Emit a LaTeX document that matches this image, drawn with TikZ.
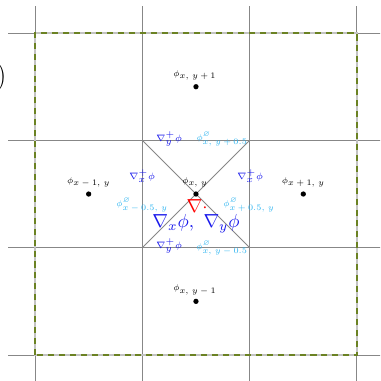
\documentclass[tikz,border=0pt]{standalone}
\usepackage{amssymb}
\definecolor{gridgray}{RGB}{135,135,135}
\definecolor{boxgray}{RGB}{195,195,195}
\definecolor{boxolive}{RGB}{107,130,35}
\definecolor{gradblue}{RGB}{25,25,235}
\definecolor{facecyan}{RGB}{45,180,240}
\begin{document}
\begin{tikzpicture}[x=2cm,y=2cm,
  gridline/.style={gridgray,line width=0.5pt},
  site/.style={circle,fill=black,inner sep=0pt,minimum size=2.8pt},
  val/.style={inner sep=0pt,font=\fontsize{6}{7}\selectfont,scale=0.74,transform shape},
  grad/.style={inner sep=0pt,text=gradblue,font=\fontsize{6}{7}\selectfont,scale=0.82,transform shape},
  face/.style={val,text=facecyan}]
\clip (-0.326,-0.242) rectangle (3.215,3.308);
\foreach \i in {0,...,3} {
  \draw[gridline] (\i,-0.25) -- (\i,3.25);
  \draw[gridline] (-0.25,\i) -- (3.25,\i);
}
\draw[boxgray,line width=1.5pt] (0,0) rectangle (3,3);
\draw[boxolive,line width=1.5pt,dash pattern=on 3.2pt off 2.6pt] (0,0) rectangle (3,3);
\coordinate (sw) at (1,1);
\coordinate (se) at (2,1);
\coordinate (nw) at (1,2);
\coordinate (ne) at (2,2);
\draw[gridline] (sw) -- (ne);
\draw[gridline] (nw) -- (se);
\node[inner sep=0pt,anchor=east,font=\fontsize{15}{18}\selectfont] (paren) at (-0.262,2.59) {)};
\node[site] (c) at (1.5,1.5) {};
\node[site] (up) at (1.5,2.5) {};
\node[site] (dn) at (1.5,0.5) {};
\node[site] (lf) at (0.5,1.5) {};
\node[site] (rt) at (2.5,1.5) {};
\node[val] (cv) at (1.49,1.607) {$\phi_{\textstyle x,\,y}$};
\node[val] (upv) at (1.49,2.607) {$\phi_{\textstyle x,\,y+1}$};
\node[val] (dnv) at (1.49,0.607) {$\phi_{\textstyle x,\,y-1}$};
\node[val] (lfv) at (0.5,1.607) {$\phi_{\textstyle x-1,\,y}$};
\node[val] (rtv) at (2.5,1.607) {$\phi_{\textstyle x+1,\,y}$};
\node[grad] (gyt) at (1.249,2.017) {$\nabla^{\textstyle +}_{\textstyle y}\phi$};
\node[grad] (gyb) at (1.249,1.016) {$\nabla^{\textstyle +}_{\textstyle y}\phi$};
\node[grad] (gxl) at (0.997,1.668) {$\nabla^{\textstyle +}_{\textstyle x}\phi$};
\node[grad] (gxr) at (2.004,1.668) {$\nabla^{\textstyle +}_{\textstyle x}\phi$};
\node[face] (ft) at (1.743,2.010) {$\phi^{\varnothing}_{\textstyle x,\,y+0.5}$};
\node[face] (fb) at (1.743,0.997) {$\phi^{\varnothing}_{\textstyle x,\,y-0.5}$};
\node[face] (fl) at (0.997,1.398) {$\phi^{\varnothing}_{\textstyle x-0.5,\,y}$};
\node[face] (fr) at (1.994,1.398) {$\phi^{\varnothing}_{\textstyle x+0.5,\,y}$};
\node[inner sep=0pt,text=red,font=\fontsize{10}{12}\selectfont] (div) at (1.51,1.384) {$\nabla\cdot$};
\node[inner sep=0pt,text=gradblue,font=\fontsize{10}{12}\selectfont] (grads) at (1.5,1.22) {$\nabla_x\phi,\ \nabla_y\phi$};
\end{tikzpicture}
\end{document}
